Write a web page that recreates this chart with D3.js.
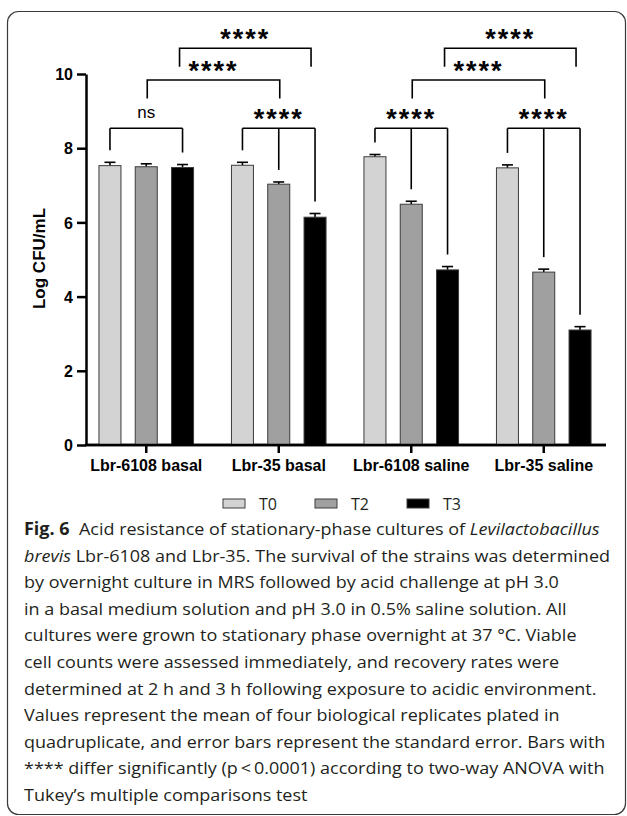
<!DOCTYPE html>
<meta charset="utf-8">
<style>
    body { margin: 0; background: #fff; }
    svg { display: block; }
    .axis path, .axis line { stroke: #000; stroke-width: 2.5; fill: none; }
    .axis text { font: bold 15px "Liberation Sans", Arial, sans-serif; fill: #000; }
    .xaxis text { font-size: 16px; }
    .caption { font-family: "Open Sans", sans-serif; font-size: 17px; fill: #231f20; }
</style>
<body>
<script src="https://cdn.jsdelivr.net/npm/d3@7"></script>
<script>
    // data
    const groups = ["Lbr-6108 basal", "Lbr-35 basal", "Lbr-6108 saline", "Lbr-35 saline"];
    const times = ["T0", "T2", "T3"];
    const T0 = [7.53, 7.54, 7.77, 7.47];
    const T2 = [7.50, 7.03, 6.49, 4.66];
    const T3 = [7.48, 6.14, 4.72, 3.10];
    const errT0 = [0.09, 0.08, 0.06, 0.08];
    const errT2 = [0.08, 0.06, 0.08, 0.08];
    const errT3 = [0.08, 0.10, 0.09, 0.09];
    const fills = ["#d3d3d3", "#a0a0a0", "#000000"];
    const yTicks = [0, 2, 4, 6, 8, 10];

    // significance brackets inside each group
    const withinLabels = ["ns", "****", "****", "****"];
    const withinLegs = [["T0", "T3"], ["T0", "T2", "T3"], ["T0", "T2", "T3"], ["T0", "T2", "T3"]];
    // brackets between groups: [groupA, groupB, time, level]
    const betweenBrackets = [
        [0, 1, "T2", 1], [0, 1, "T3", 2],
        [2, 3, "T2", 1], [2, 3, "T3", 2]
    ];

    const captionLines = [
        [["Fig. 6", "b"], ["  Acid resistance of stationary-phase cultures of ", ""], ["Levilactobacillus", "i"]],
        [["brevis", "i"], [" Lbr-6108 and Lbr-35. The survival of the strains was determined", ""]],
        [["by overnight culture in MRS followed by acid challenge at pH 3.0", ""]],
        [["in a basal medium solution and pH 3.0 in 0.5% saline solution. All", ""]],
        [["cultures were grown to stationary phase overnight at 37 °C. Viable", ""]],
        [["cell counts were assessed immediately, and recovery rates were", ""]],
        [["determined at 2 h and 3 h following exposure to acidic environment.", ""]],
        [["Values represent the mean of four biological replicates plated in", ""]],
        [["quadruplicate, and error bars represent the standard error. Bars with", ""]],
        [["**** differ significantly (p\u2009<\u20090.0001) according to two-way ANOVA with", ""]],
        [["Tukey\u2019s multiple comparisons test", ""]]
    ];

    const width = 627, height = 816;
    const values = {T0: T0, T2: T2, T3: T3};
    const errs = {T0: errT0, T2: errT2, T3: errT3};

    const svg = d3.select("body").append("svg")
        .attr("width", width)
        .attr("height", height);

    // frame
    svg.append("rect")
        .attr("x", 7.5).attr("y", 11.5)
        .attr("width", 618).attr("height", 803)
        .attr("rx", 11)
        .attr("fill", "none")
        .attr("stroke", "#3a3a3a")
        .attr("stroke-width", 1.2);

    const axisX = 86;
    const y = d3.scaleLinear().domain([0, 10]).range([445, 74]);
    const x0 = d3.scaleBand().domain(groups).range([80, 610]);
    const x1 = d3.scaleBand().domain(times).range([-47.8, 47.8]).paddingInner(0.366);
    const cx = (gi, t) => x0(groups[gi]) + x0.bandwidth() / 2 + x1(t) + x1.bandwidth() / 2;

    // y axis
    svg.append("g")
        .attr("class", "axis")
        .attr("transform", "translate(" + axisX + ",0)")
        .call(d3.axisLeft(y).tickValues(yTicks).tickSize(9).tickPadding(4).tickSizeOuter(0))
        .call(g => g.selectAll("text").attr("dy", "0.36em").style("font-size", "16px"));

    // x axis
    const xAxis = svg.append("g")
        .attr("class", "axis xaxis")
        .attr("transform", "translate(0," + y(0) + ")")
        .call(d3.axisBottom(x0).tickSize(8).tickSizeOuter(0));
    xAxis.select(".domain").attr("d", "M" + (axisX - 1) + ",0H606");
    xAxis.selectAll("text").attr("y", 26).attr("dy", 0);

    svg.append("text")
        .attr("transform", "translate(45,258.5) rotate(-90)")
        .attr("text-anchor", "middle")
        .style("font", "bold 17px 'Liberation Sans', Arial, sans-serif")
        .text("Log CFU/mL");

    // bars
    const barData = [];
    groups.forEach((g, gi) => times.forEach((t, ti) => {
        barData.push({gi: gi, t: t, ti: ti, v: values[t][gi], e: errs[t][gi]});
    }));

    // error bars (upper only)
    const err = svg.append("g").attr("stroke", "#000").attr("stroke-width", 1.6);
    err.selectAll(".stem").data(barData).enter().append("line")
        .attr("x1", d => cx(d.gi, d.t)).attr("x2", d => cx(d.gi, d.t))
        .attr("y1", d => y(d.v)).attr("y2", d => y(d.v + d.e));
    err.selectAll(".cap").data(barData).enter().append("line")
        .attr("x1", d => cx(d.gi, d.t) - 5.5).attr("x2", d => cx(d.gi, d.t) + 5.5)
        .attr("y1", d => y(d.v + d.e)).attr("y2", d => y(d.v + d.e));

    svg.append("g").selectAll("rect").data(barData).enter().append("rect")
        .attr("x", d => cx(d.gi, d.t) - x1.bandwidth() / 2 + 0.5)
        .attr("width", x1.bandwidth() - 1)
        .attr("y", d => y(d.v))
        .attr("height", d => y(0) - y(d.v))
        .attr("fill", d => fills[d.ti])
        .attr("stroke", "#3c3c3c")
        .attr("stroke-width", 1);

    // redraw axis line on top of bar bottoms
    svg.append("line")
        .attr("x1", axisX - 1).attr("x2", 606)
        .attr("y1", y(0)).attr("y2", y(0))
        .attr("stroke", "#000").attr("stroke-width", 2.5);

    // brackets
    const br = svg.append("g").attr("fill", "none").attr("stroke", "#000").attr("stroke-width", 1.6);
    const labelFont = "bold 27px 'Liberation Sans', Arial, sans-serif";
    const topOf = (gi, t) => y(values[t][gi] + errs[t][gi]);

    function drawLabel(xm, lineY, label) {
        const tx = svg.append("text")
            .attr("x", xm)
            .attr("text-anchor", "middle")
            .text(label);
        if (label === "ns") {
            tx.attr("y", lineY - 10)
                .style("font", "17px 'Liberation Sans', Arial, sans-serif");
        } else {
            tx.attr("y", lineY)
                .style("font", labelFont)
                .style("letter-spacing", "2px");
        }
    }

    const withinY = 128.3;
    withinLegs.forEach((legs, gi) => {
        const xs = legs.map(t => cx(gi, t));
        br.append("line")
            .attr("x1", d3.min(xs)).attr("x2", d3.max(xs))
            .attr("y1", withinY).attr("y2", withinY);
        legs.forEach(t => {
            br.append("line")
                .attr("x1", cx(gi, t)).attr("x2", cx(gi, t))
                .attr("y1", withinY).attr("y2", topOf(gi, t) - 12);
        });
        drawLabel((d3.min(xs) + d3.max(xs)) / 2, withinY, withinLabels[gi]);
    });

    const levelY = {1: 80, 2: 48.3};
    betweenBrackets.forEach(b => {
        const xa = cx(b[0], b[2]) + (b[3] === 2 ? -3 : 1);
        const xb = cx(b[1], b[2]) + (b[3] === 2 ? -4 : 1);
        const ly = levelY[b[3]];
        br.append("path")
            .attr("d", "M" + xa + "," + (ly + 18.5) + "V" + ly + "H" + xb + "V" + (ly + 18.5));
        drawLabel((xa + xb) / 2, ly, "****");
    });

    // legend
    const legend = svg.append("g").selectAll("g").data(times).enter().append("g")
        .attr("transform", (d, i) => "translate(" + (223 + i * 92) + ",499)");
    legend.append("rect")
        .attr("width", 22).attr("height", 9)
        .attr("fill", (d, i) => fills[i])
        .attr("stroke", "#3c3c3c").attr("stroke-width", 1);
    legend.append("text")
        .attr("x", 36).attr("y", 11)
        .style("font", "16px 'Open Sans', sans-serif")
        .attr("fill", "#231f20")
        .text(d => d);

    // caption
    const cap = svg.append("g").attr("class", "caption");
    const lines = cap.selectAll("text").data(captionLines).enter().append("text")
        .attr("x", 0)
        .attr("y", (d, i) => 535 + i * 26.6);
    lines.selectAll("tspan").data(d => d).enter().append("tspan")
        .attr("font-weight", d => d[1] === "b" ? "bold" : null)
        .attr("font-style", d => d[1] === "i" ? "italic" : null)
        .style("white-space", "pre")
        .text(d => d[0]);
    const w2 = lines.nodes()[1].getComputedTextLength();
    const sx = 586 / w2;
    cap.attr("transform", "translate(24,0) scale(" + sx + ",1)");
</script>
</body>
